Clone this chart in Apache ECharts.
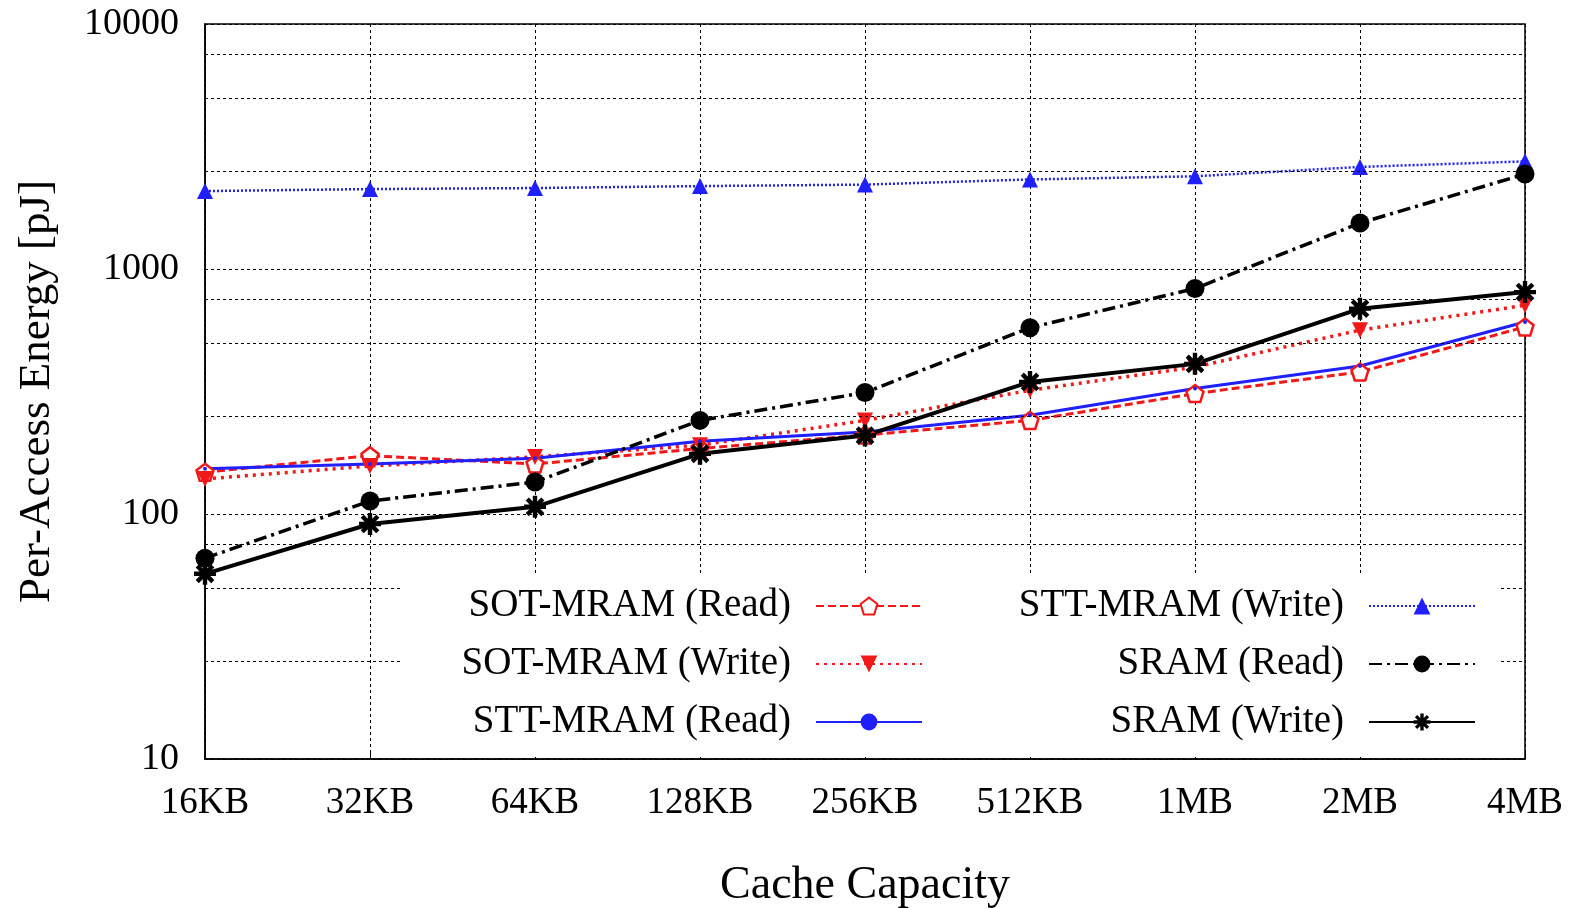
<!DOCTYPE html>
<html>
<head>
<meta charset="utf-8">
<script src="https://cdn.jsdelivr.net/npm/echarts@6/dist/echarts.min.js"></script>
<style>
  html, body { margin: 0; padding: 0; background: #fff; }
  #main { width: 1573px; height: 908px; }
</style>
</head>
<body>
<div id="main"></div>
<script>
var categories = ['16KB', '32KB', '64KB', '128KB', '256KB', '512KB', '1MB', '2MB', '4MB'];
var sotRead   = [148, 173, 160, 185, 210, 241, 310, 380, 580];
var sotWrite  = [139, 157, 171, 191, 241, 320, 398, 563, 711];
var sttRead   = [153, 160, 169, 198, 216, 253, 325, 402, 608];
var sttWrite  = [2080, 2120, 2140, 2180, 2210, 2320, 2390, 2610, 2750];
var sramRead  = [66, 113, 135, 241, 313, 576, 832, 1540, 2440];
var sramWrite = [57, 91, 107, 176, 209, 346, 410, 689, 805];
var minorGrid = [25, 50, 75, 250, 500, 750, 2500, 5000, 7500];

var red = '#f01818';
var blue = '#1f1fff';
var font = 'Liberation Serif';

var pentagon = 'path://M0,-1L0.951,-0.309L0.588,0.809L-0.588,0.809L-0.951,-0.309Z';
var asterisk = 'path://M-1,-0.2L1,-0.2L1,0.2L-1,0.2Z' +
    'M-0.2,-1L0.2,-1L0.2,1L-0.2,1Z' +
    'M-0.566,-0.848L0.848,0.566L0.566,0.848L-0.848,-0.566Z' +
    'M0.566,-0.848L0.848,-0.566L-0.566,0.848L-0.848,0.566Z';

var chart = echarts.init(document.getElementById('main'));

function key(name, right, top) {
    return {
        data: [name],
        right: right,
        top: top,
        z: 60,
        orient: 'horizontal',
        align: 'right',
        padding: 0,
        itemWidth: 106,
        itemHeight: 21,
        selectedMode: false,
        textStyle: {
            fontFamily: font,
            fontSize: 39,
            color: '#000',
            lineHeight: 44,
            padding: [0, 20, 0, 0]
        }
    };
}

option = {
    backgroundColor: '#fff',
    animation: false,
    grid: {
        left: 205,
        right: 48,
        top: 24,
        bottom: 149,
        show: true,
        borderColor: '#000',
        borderWidth: 1.5,
        outerBoundsMode: 'none'
    },
    graphic: {
        z: 50,
        elements: [{
            type: 'rect',
            z: 50,
            shape: { x: 402, y: 573, width: 1096, height: 184 },
            style: { fill: '#fff' }
        }]
    },
    legend: [
        key('SOT-MRAM (Read)', 650, 584),
        key('SOT-MRAM (Write)', 650, 642),
        key('STT-MRAM (Read)', 650, 700),
        key('STT-MRAM (Write)', 97, 584),
        key('SRAM (Read)', 97, 642),
        key('SRAM (Write)', 97, 700)
    ],
    xAxis: {
        type: 'category',
        data: categories,
        boundaryGap: false,
        name: 'Cache Capacity',
        nameLocation: 'middle',
        nameGap: 104,
        nameTextStyle: { fontFamily: font, fontSize: 46, color: '#000' },
        axisLine: { lineStyle: { color: '#000', width: 1.5 } },
        axisTick: { inside: true, length: 8, lineStyle: { color: '#000' } },
        axisLabel: { fontFamily: font, fontSize: 37, color: '#000', margin: 26 },
        splitLine: { show: true, lineStyle: { color: '#000', type: [3, 3], width: 1 } }
    },
    yAxis: {
        type: 'log',
        logBase: 10,
        min: 10,
        max: 10000,
        name: 'Per-Access Energy [pJ]',
        nameLocation: 'middle',
        nameGap: 145,
        nameTextStyle: { fontFamily: font, fontSize: 45, color: '#000' },
        axisLine: { show: true, lineStyle: { color: '#000', width: 1.5 } },
        axisTick: { show: false },
        axisLabel: {
            fontFamily: font, fontSize: 38, color: '#000', margin: 26,
            formatter: function (v) { return String(Math.round(v)); }
        },
        splitLine: { show: true, lineStyle: { color: '#000', type: [3, 3], width: 1 } }
    },
    series: [
        {
            type: 'line',
            z: 0,
            data: [],
            silent: true,
            markLine: {
                silent: true,
                symbol: 'none',
                label: { show: false },
                lineStyle: { color: '#000', type: [3, 3], width: 1 },
                data: minorGrid.map(function (v) { return { yAxis: v }; })
            }
        },
        {
            name: 'SOT-MRAM (Read)',
            type: 'line',
            data: sotRead,
            symbol: pentagon,
            symbolSize: 17,
            lineStyle: { color: red, width: 3, type: [8, 4] },
            itemStyle: { color: '#fff', borderColor: red, borderWidth: 2.5 }
        },
        {
            name: 'SOT-MRAM (Write)',
            type: 'line',
            data: sotWrite,
            symbol: 'triangle',
            symbolRotate: 180,
            symbolSize: 16,
            lineStyle: { color: red, width: 3.5, type: [3, 5] },
            itemStyle: { color: red }
        },
        {
            name: 'STT-MRAM (Read)',
            type: 'line',
            data: sttRead,
            symbol: 'circle',
            symbolSize: 4,
            lineStyle: { color: blue, width: 3 },
            itemStyle: { color: blue }
        },
        {
            name: 'STT-MRAM (Write)',
            type: 'line',
            data: sttWrite,
            symbol: 'triangle',
            symbolSize: 16,
            lineStyle: { color: blue, width: 2.5, type: [2, 2] },
            itemStyle: { color: blue }
        },
        {
            name: 'SRAM (Read)',
            type: 'line',
            data: sramRead,
            symbol: 'circle',
            symbolSize: 19,
            lineStyle: { color: '#000', width: 3.5, type: [13, 5, 3, 5] },
            itemStyle: { color: '#000' }
        },
        {
            name: 'SRAM (Write)',
            type: 'line',
            data: sramWrite,
            symbol: asterisk,
            symbolSize: 22,
            lineStyle: { color: '#000', width: 4 },
            itemStyle: { color: '#000' }
        }
    ]
};

if (option && typeof option === 'object') {
    chart.setOption(option, true);
}
</script>
</body>
</html>
